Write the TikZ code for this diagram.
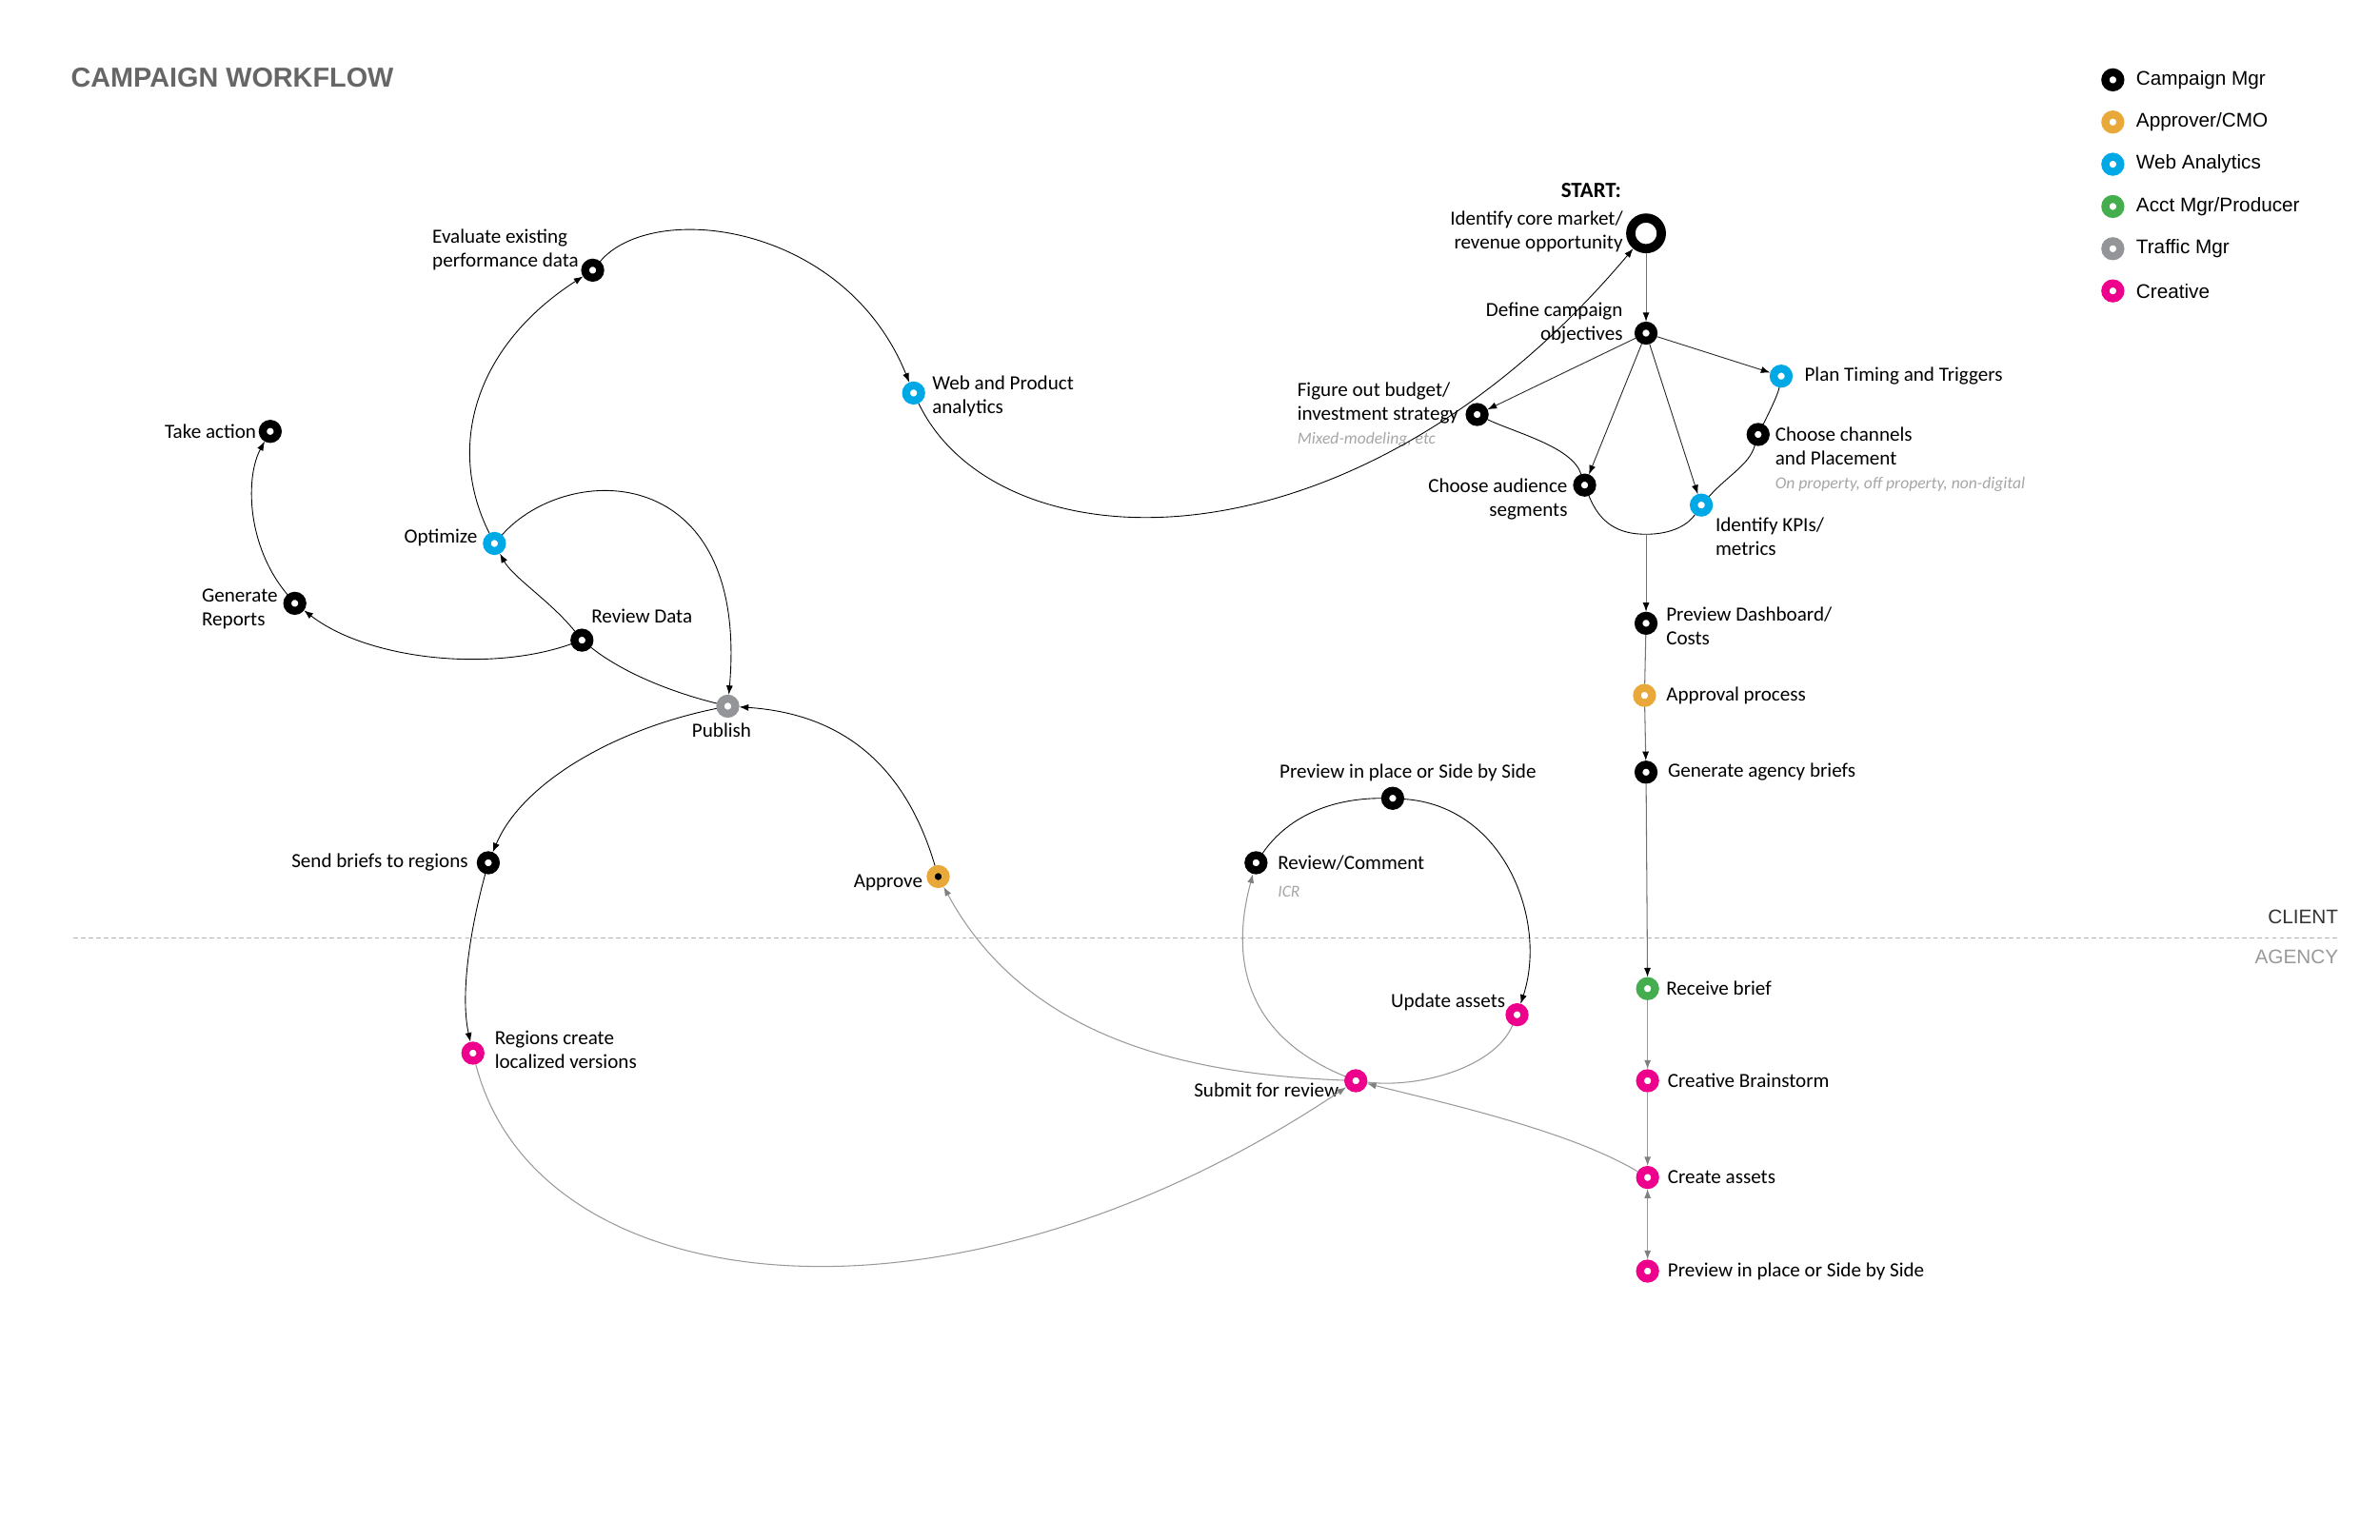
\documentclass[tikz,border=0pt]{standalone}
\usepackage{fontspec}
\usepackage{tikz}
\usetikzlibrary{arrows.meta}
\usetikzlibrary{positioning}
\newfontfamily\wffont{Carlito}
\newfontfamily\legfont{Liberation Sans}
\colorlet{cmcol}{black}
\definecolor{apcol}{RGB}{232,169,58}
\definecolor{wacol}{RGB}{0,169,230}
\definecolor{amcol}{RGB}{68,174,78}
\definecolor{tmcol}{RGB}{147,149,152}
\definecolor{crcol}{RGB}{236,0,140}
\colorlet{linecol}{black!55}
\colorlet{softcol}{black!40}
\colorlet{notecol}{black!35}
\newcommand{\lblfont}{\wffont\fontsize{12}{14.2}\selectfont}
\newcommand{\lblbold}{\wffont\bfseries\fontsize{13}{15}\selectfont}
\newcommand{\legtext}{\legfont\fontsize{11.8}{13}\selectfont}
\newcommand{\subnote}[1]{{\color{notecol}\itshape\fontsize{10}{12}\selectfont #1}}
\tikzset{
  >=latex,
  pt/.style={circle,inner sep=0pt,minimum size=9pt,line width=4.75pt,fill=white},
  pt cm/.style={pt,draw=cmcol},
  pt ap/.style={pt,draw=apcol},
  pt wa/.style={pt,draw=wacol},
  pt am/.style={pt,draw=amcol},
  pt tm/.style={pt,draw=tmcol},
  pt cr/.style={pt,draw=crcol},
  pt start/.style={circle,inner sep=0pt,minimum size=18.3pt,line width=5.5pt,draw=black,fill=white},
  lbl r/.style={font=\lblfont,anchor=west,align=left,inner sep=0pt},
  lbl l/.style={font=\lblfont,anchor=east,align=right,inner sep=0pt},
  lbl t/.style={font=\lblfont,anchor=south,inner sep=0pt},
  lbl b/.style={font=\lblfont,anchor=north,inner sep=0pt},
  connect/.style={line width=0.5pt,black},
  connect arrow/.style={connect,-{Latex[length=5.5pt,width=4pt]}},
  line/.style={line width=0.6pt,linecol},
  line arrow/.style={line,-{Latex[length=5.5pt,width=4pt,color=black]}},
  dark arrow/.style={line width=0.5pt,black!85,-{Latex[length=5.5pt,width=4pt,color=black]}},
  soft/.style={line width=0.6pt,softcol},
  soft arrow/.style={soft,-{Latex[length=5.5pt,width=4pt,color=black!50]}},
  divider/.style={line width=0.8pt,black!30,dash pattern=on 2.7pt off 1.8pt}
}
\newcommand{\wfpt}[4][pt cm]{\node[#1,label={#4}] at (#2) (#3) {}}

\begin{document}
\begin{tikzpicture}[x=0.032258cm,y=-0.032258cm]
  \useasboundingbox (0,0) rectangle (1550,1003.1);

  % title and legend
  \node[anchor=base west,inner sep=0pt,text=black!60,font=\legfont\bfseries\fontsize{16.4}{18}\selectfont] (title) at (46,57) {CAMPAIGN WORKFLOW};
  \foreach \col/\txt [count=\i] in {cmcol/{Campaign Mgr},apcol/{Approver/CMO},wacol/{Web Analytics},amcol/{Acct Mgr/Producer},tmcol/{Traffic Mgr},crcol/{Creative}}
    \node[pt,draw=\col,label={[font=\legtext,anchor=west,inner sep=0pt,label distance=6.9pt]east:\txt}] (leg\i) at (1376,{52+27.5*(\i-1)}) {};

  % client / agency split
  \draw[divider] (48,611) -- (1523,611);
  \node[anchor=base east,inner sep=0pt,font=\legtext,text=black!80] (client) at (1523,601.5) {CLIENT};
  \node[anchor=base east,inner sep=0pt,font=\legtext,text=black!40] (agency) at (1523,627.5) {AGENCY};

  % planning column
  \node[pt start,
    label={[lbl l,label distance=1.8pt,yshift=1pt]west:Identify core market/\\revenue opportunity},
    label={[lbl l,font=\lblbold,label distance=2.7pt,yshift=25.6pt]west:{START:}}] (start) at (1072,152) {};
  \wfpt{1072,217}{def}{[lbl l,label distance=6.9pt,yshift=6pt]west:Define campaign\\objectives};
  \wfpt[pt wa]{1160,245}{plan}{[lbl r,label distance=6.9pt]east:Plan Timing and Triggers};
  \wfpt{962,270}{bud}{[lbl l,align=left,label distance=4.1pt]west:Figure out budget/\\investment strategy\\\subnote{Mixed-modeling, etc}};
  \wfpt{1145,283}{chan}{[lbl r,label distance=3.2pt,yshift=-15pt]east:Choose channels\\and Placement\\\subnote{On property, off property, non-digital}};
  \wfpt{1032,316}{aud}{[lbl l,label distance=3.2pt,yshift=-8.2pt]west:Choose audience\\segments};
  \wfpt[pt wa]{1108,329}{kpi}{[lbl r,label distance=1.4pt,yshift=-18.7pt]east:Identify KPIs/\\metrics};
  \coordinate (join) at (1072,348);
  \wfpt{1072,406}{dash}{[lbl r,label distance=5pt,yshift=-1.4pt]east:Preview Dashboard/\\Costs};
  \wfpt[pt ap]{1071,453}{appr}{[lbl r,label distance=6pt]east:Approval process};
  \wfpt{1072,503}{gen}{[lbl r,label distance=6pt]east:Generate agency briefs};

  % agency column
  \wfpt[pt am]{1073,644}{recv}{[lbl r,label distance=4.1pt]east:Receive brief};
  \wfpt[pt cr]{1073,704}{brain}{[lbl r,label distance=5pt]east:Creative Brainstorm};
  \wfpt[pt cr]{1073,767}{create}{[lbl r,label distance=5pt]east:Create assets};
  \wfpt[pt cr]{1073,828}{prevA}{[lbl r,label distance=5pt]east:Preview in place or Side by Side};

  % review loop
  \wfpt[pt cr]{883,704}{sub}{[lbl l,label distance=3.2pt,yshift=-5.5pt]west:Submit for review};
  \wfpt[pt cr]{988,661}{upd}{[lbl l,label distance=0pt,yshift=7.3pt]west:Update assets};
  \wfpt{907,520}{prevC}{[lbl t,label distance=3.2pt,xshift=9.1pt]north:Preview in place or Side by Side};
  \wfpt{818,562}{rev}{[lbl r,label distance=6pt,yshift=-8.2pt]east:Review/Comment\\[2pt]\subnote{ICR}};
  \wfpt[pt ap,fill=black]{611,571}{apv}{[lbl l,label distance=2.3pt,yshift=-3.7pt]west:Approve};

  % publish and reporting
  \wfpt[pt tm]{474,460}{pub}{[lbl b,label distance=3.2pt,xshift=-3.7pt]south:Publish};
  \wfpt{318,562}{send}{[lbl l,label distance=5pt]west:Send briefs to regions};
  \wfpt[pt cr]{308,686}{reg}{[lbl r,label distance=6pt,yshift=2.3pt]east:Regions create\\localized versions};
  \wfpt{379,417}{rd}{[lbl r,label distance=-1.4pt,yshift=14.6pt]east:Review Data};
  \wfpt[pt wa]{322,354}{opt}{[lbl l,label distance=3.2pt,yshift=3.7pt]west:Optimize};
  \wfpt{192,393}{rep}{[lbl l,align=left,label distance=3.2pt,yshift=-3.2pt]west:Generate\\Reports};
  \wfpt{176,281}{act}{[lbl l,label distance=1.4pt]west:Take action};
  \wfpt{386,176}{eva}{[lbl l,align=left,label distance=1.4pt,yshift=12.3pt]west:Evaluate existing\\performance data};
  \wfpt[pt wa]{595,256}{wpa}{[lbl r,label distance=4.1pt,yshift=-1.8pt]east:Web and Product\\analytics};

  % planning connectors
  \draw[line arrow] (start) -- (def);
  \draw[dark arrow] (def) -- (plan);
  \draw[dark arrow] (def) -- (bud);
  \draw[dark arrow] (def) -- (aud);
  \draw[dark arrow] (def) -- (kpi);
  \draw[connect]
    (bud) .. controls +(25,12) and +(-8,-25) .. (aud)
    (aud) .. controls +(10,25) and +(-18,0) .. (join)
          .. controls +(18,0) and +(-8,12) .. (kpi)
    (kpi) .. controls +(18,-20) and +(-6,20) .. (chan)
    (chan) .. controls +(6,-12) and +(-2,12) .. (plan);
  \draw[line arrow] (join) -- (dash);
  \draw[line] (dash) -- (appr);
  \draw[line arrow] (appr) -- (gen);
  \draw[line arrow] (gen) -- (recv);
  \draw[soft arrow] (recv) -- (brain);
  \draw[soft arrow] (brain) -- (create);
  \draw[soft,{Latex[length=5.5pt,width=4pt,color=black!50]}-{Latex[length=5.5pt,width=4pt,color=black!50]}] (create) -- (prevA);

  % review connectors
  \draw[soft arrow] (create) .. controls +(-50,-30) and +(60,15) .. (sub);
  \draw[soft arrow] (sub) .. controls +(-103,-4) and +(59,109) .. (apv);
  \draw[soft arrow] (sub) .. controls +(-83,-34) and +(-13,48) .. (rev);
  \draw[connect] (rev) .. controls +(22,-32) and +(-37,0) .. (prevC);
  \draw[connect arrow] (prevC) .. controls +(73,5) and +(20,-61) .. (upd);
  \draw[soft] (upd) .. controls +(-15,35) and +(40,5) .. (sub);

  % publishing connectors
  \draw[connect arrow] (wpa) .. controls +(55,114) and +(-192,228) .. (start);
  \draw[connect arrow] (eva) .. controls +(39,-46) and +(-45,-111) .. (wpa);
  \draw[connect arrow] (opt) .. controls +(-32,-64) and +(-76,49) .. (eva);
  \draw[connect arrow] (rd) .. controls +(-20,-25) and +(12,22) .. (opt);
  \draw[connect arrow] (opt) .. controls +(48,-54) and +(14,-160) .. (pub);
  \draw[connect] (pub) .. controls +(-40,-10) and +(25,20) .. (rd);
  \draw[connect arrow] (rd) .. controls +(-59,21) and +(48,37) .. (rep);
  \draw[connect arrow] (rep) .. controls +(-32,-38) and +(-16,29) .. (act);
  \draw[connect arrow] (apv) .. controls +(-21,-71) and +(76,5) .. (pub);
  \draw[connect arrow] (pub) .. controls +(-74,15) and +(22,-52) .. (send);
  \draw[connect arrow] (send) .. controls +(-13,48) and +(-8,-36) .. (reg);
  \draw[soft arrow] (reg) .. controls +(42,164) and +(-263,176) .. (sub);
\end{tikzpicture}
\end{document}
